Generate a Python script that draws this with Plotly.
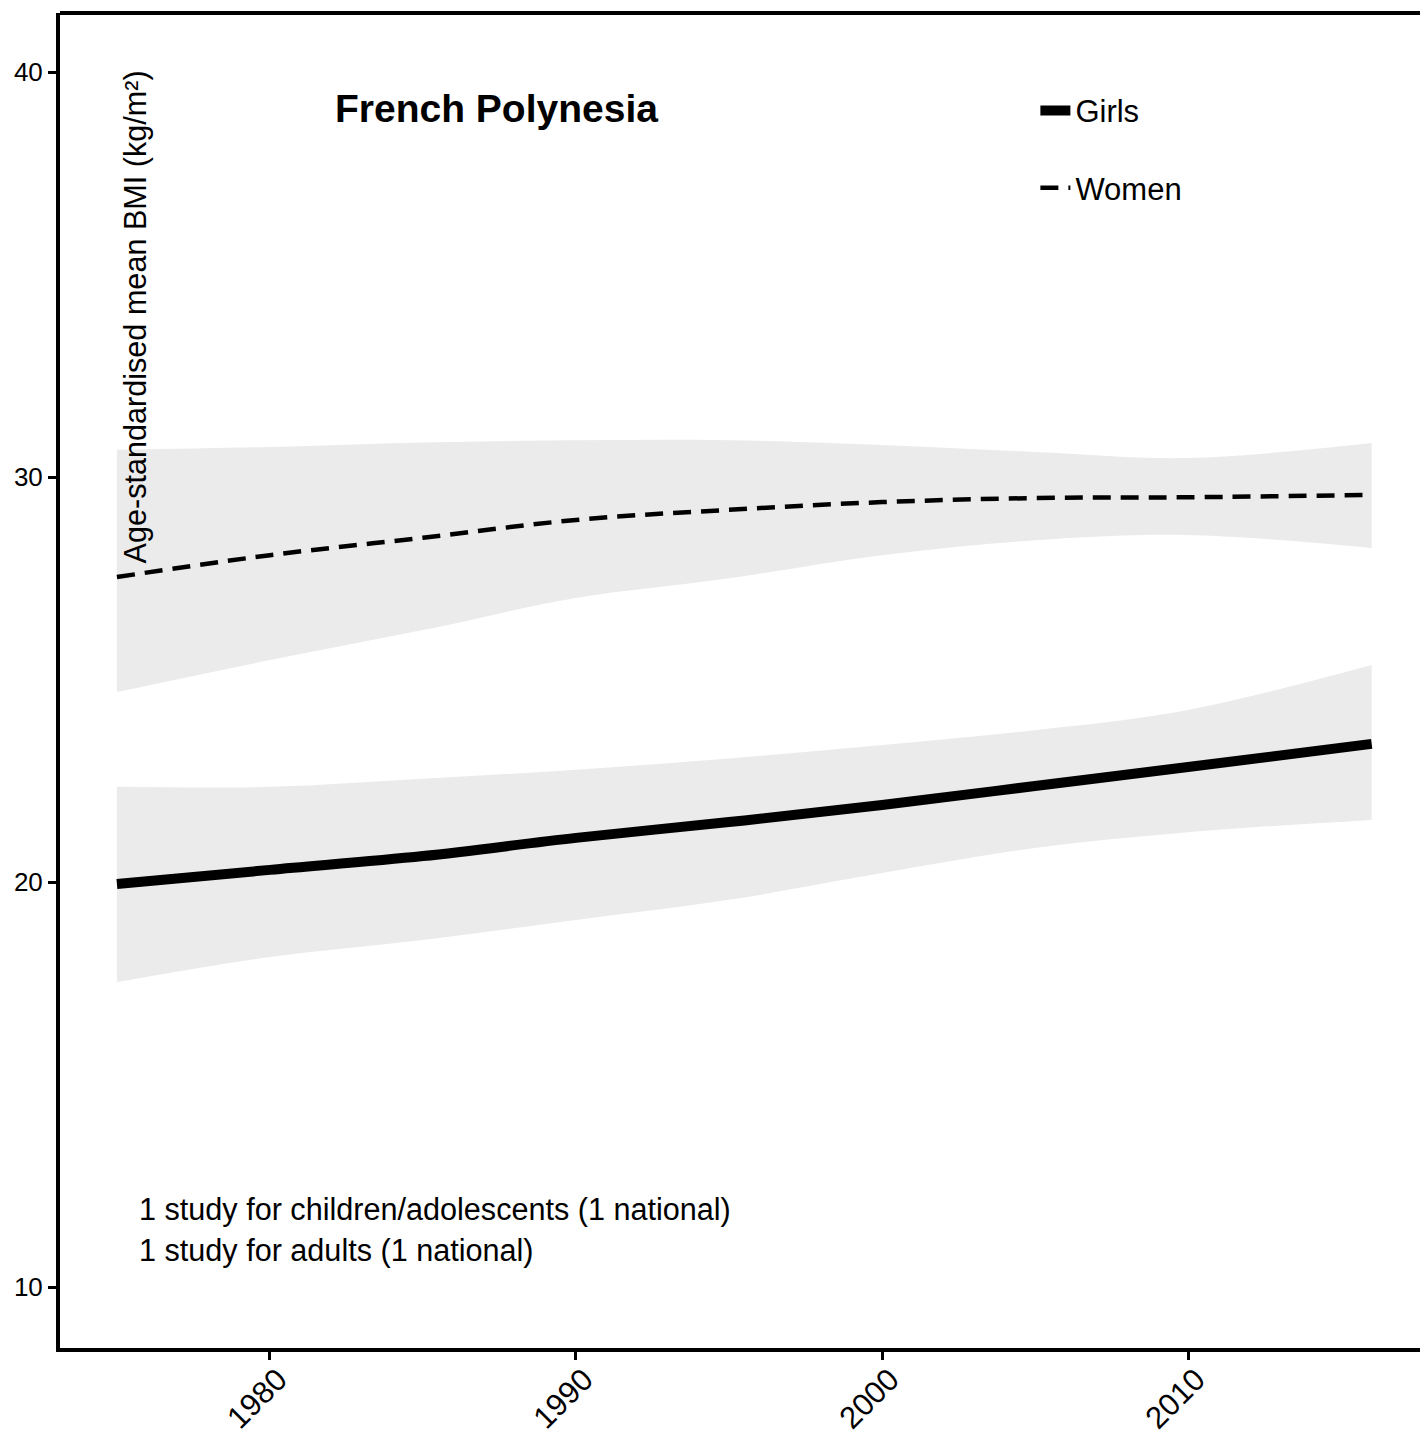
import plotly.graph_objects as go

years = [1975, 1980, 1985, 1990, 1995, 2000, 2005, 2010, 2016]

women_mean = [27.53, 28.07, 28.50, 28.94, 29.19, 29.38, 29.48, 29.50, 29.56]
women_upper = [30.67, 30.74, 30.85, 30.91, 30.91, 30.79, 30.62, 30.47, 30.84]
women_lower = [24.69, 25.48, 26.22, 27.01, 27.50, 28.07, 28.44, 28.57, 28.25]

girls_mean = [19.95, 20.30, 20.64, 21.09, 21.48, 21.90, 22.37, 22.84, 23.41]
girls_upper = [22.35, 22.35, 22.55, 22.77, 23.05, 23.38, 23.75, 24.25, 25.36]
girls_lower = [17.53, 18.15, 18.57, 19.06, 19.56, 20.22, 20.84, 21.23, 21.53]

x_ticks = [1980, 1990, 2000, 2010]
y_ticks = [10, 20, 30, 40]

band = "#EBEBEB"
font = "Liberation Sans, Arial, sans-serif"

fig = go.Figure()

for up, lo in [(women_upper, women_lower), (girls_upper, girls_lower)]:
    fig.add_trace(go.Scatter(x=years, y=lo, mode="lines",
                             line=dict(width=0, color=band, shape="spline"),
                             showlegend=False, hoverinfo="skip"))
    fig.add_trace(go.Scatter(x=years, y=up, mode="lines", fill="tonexty",
                             fillcolor=band,
                             line=dict(width=0, color=band, shape="spline"),
                             showlegend=False, hoverinfo="skip"))

fig.add_trace(go.Scatter(x=years, y=girls_mean, mode="lines", name="Girls",
                         line=dict(color="black", width=10, shape="spline"),
                         legendgroup="g"))
fig.add_trace(go.Scatter(x=years, y=women_mean, mode="lines", name="Women",
                         line=dict(color="black", width=4.5, dash="18px,10px",
                                   shape="spline"),
                         legendgroup="w"))

fig.update_layout(
    width=1420, height=1440,
    margin=dict(l=52, r=0, t=5, b=100),
    plot_bgcolor="white", paper_bgcolor="white",
    font=dict(family=font, color="black", size=24),
    xaxis=dict(range=[1973.14, 2017.84], tickvals=x_ticks, tickangle=-45,
               showgrid=False, zeroline=False, showline=True, linewidth=4,
               linecolor="black", ticks="outside", ticklen=8, tickwidth=3,
               tickcolor="black", tickfont=dict(size=31),
               ticklabelshift=8, ticklabelstandoff=-11),
    yaxis=dict(range=[8.494, 41.457], tickvals=y_ticks, showgrid=False,
               zeroline=False, showline=True, linewidth=4, linecolor="black",
               ticks="outside", ticklen=8, tickwidth=3, tickcolor="black",
               tickfont=dict(size=26)),
    legend=dict(x=0.713, y=0.947, xanchor="left", yanchor="top",
                font=dict(size=31), tracegroupgap=34, bgcolor="rgba(0,0,0,0)"),
    showlegend=True,
)

# top border
fig.add_shape(type="line", xref="paper", yref="paper", x0=0, x1=1, y0=1, y1=1,
              line=dict(color="black", width=4))

fig.add_annotation(text="<b>French Polynesia</b>", xref="paper", yref="paper",
                   x=0.3194, y=0.9288, showarrow=False, font=dict(size=39),
                   xanchor="center", yanchor="middle")
fig.add_annotation(text="Age-standardised mean BMI (kg/m²)", xref="paper", yref="paper",
                   x=0.0555, y=0.9588, textangle=-90, showarrow=False,
                   font=dict(size=30.6), xanchor="center", yanchor="top")
fig.add_annotation(text="1 study for children/adolescents (1 national)", xref="paper",
                   yref="paper", x=0.0563, y=0.1034, showarrow=False,
                   font=dict(size=30.6), xanchor="left", yanchor="middle")
fig.add_annotation(text="1 study for adults (1 national)", xref="paper",
                   yref="paper", x=0.0563, y=0.0734, showarrow=False,
                   font=dict(size=30.6), xanchor="left", yanchor="middle")

fig.write_html("out.html")
